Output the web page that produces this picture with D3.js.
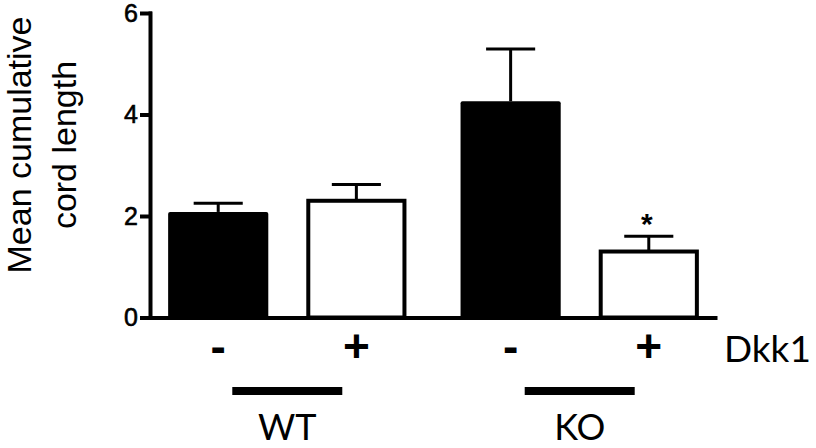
<!DOCTYPE html>
<html>
<head>
<meta charset="utf-8">
<script src="https://cdn.jsdelivr.net/npm/d3@7"></script>
<style>
  body { margin: 0; background: #fff; }
  svg { display: block; }
</style>
</head>
<body>
<svg class="chart" width="816" height="448"></svg>
<script>
const groups = ["WT", "KO"];
const treatments = ["-", "+"];
const means = [2.08, 2.30, 4.26, 1.30];
const sems = [0.17, 0.32, 1.03, 0.30];
const stars = ["", "", "", "*"];
const yTicks = [0, 2, 4, 6];
const yTitle = ["Mean cumulative", "cord length"];
const treatmentTitle = "Dkk1";

const svg = d3.select(".chart");

const x0 = 150, x1 = 717, yBase = 317.5, yTop = 13;

// group scale, then -/+ inside each group
const xGroup = d3.scaleBand()
  .domain(groups)
  .range([x0, x1])
  .paddingInner(0.185)
  .paddingOuter(0.062);

const xTreat = d3.scaleBand()
  .domain(treatments)
  .range([0, xGroup.bandwidth()])
  .paddingInner(0.275)
  .paddingOuter(0);

const y = d3.scaleLinear().domain([0, 6]).range([yBase, yTop]);

const bars = means.map((m, i) => ({
  group: groups[Math.floor(i / 2)],
  treat: treatments[i % 2],
  mean: m,
  sem: sems[i],
  star: stars[i]
}));

const bx = d => xGroup(d.group) + xTreat(d.treat);
const bw = xTreat.bandwidth();

// bars
const g = svg.append("g");
g.selectAll("rect.bar")
  .data(bars)
  .enter()
  .append("rect")
  .attr("class", "bar")
  .attr("x", d => d.treat === "-" ? bx(d) : bx(d) + 2)
  .attr("width", d => d.treat === "-" ? bw : bw - 4)
  .attr("y", d => y(d.mean))
  .attr("height", d => yBase - y(d.mean))
  .attr("rx", d => d.treat === "-" ? 2 : 0)
  .attr("fill", d => d.treat === "-" ? "#000" : "#fff")
  .attr("stroke", d => d.treat === "-" ? "none" : "#000")
  .attr("stroke-width", 4);

// error bars (upper only)
const capW = bw * 0.49;
const err = g.selectAll("g.err")
  .data(bars)
  .enter()
  .append("g")
  .attr("class", "err")
  .attr("stroke", "#000")
  .attr("stroke-width", 3);

err.append("line")
  .attr("x1", d => bx(d) + bw / 2)
  .attr("x2", d => bx(d) + bw / 2)
  .attr("y1", d => y(d.mean))
  .attr("y2", d => y(d.mean + d.sem));

err.append("line")
  .attr("x1", d => bx(d) + bw / 2 - capW / 2)
  .attr("x2", d => bx(d) + bw / 2 + capW / 2)
  .attr("y1", d => y(d.mean + d.sem))
  .attr("y2", d => y(d.mean + d.sem));

g.selectAll("text.star")
  .data(bars.filter(d => d.star))
  .enter()
  .append("text")
  .attr("class", "star")
  .attr("x", d => bx(d) + bw / 2 - 2)
  .attr("y", d => y(d.mean + d.sem) - 2)
  .attr("text-anchor", "middle")
  .attr("font-family", "Liberation Sans, Arial, sans-serif")
  .attr("font-weight", "bold")
  .attr("font-size", 30)
  .text(d => d.star);

// y axis
const yAxis = svg.append("g")
  .attr("transform", `translate(${x0},0)`)
  .call(d3.axisLeft(y).tickValues(yTicks).tickFormat(d3.format("d"))
    .tickSize(8).tickSizeOuter(0).tickPadding(4));
yAxis.selectAll("path, line").attr("stroke", "#000").attr("stroke-width", 4).attr("stroke-linecap", "square");
yAxis.selectAll("text")
  .attr("font-family", "Liberation Sans, Arial, sans-serif")
  .attr("font-size", 25)
  .attr("fill", "#000")
  .attr("stroke", "#000")
  .attr("stroke-width", 0.6);

// baseline
const xAxis = svg.append("g")
  .attr("transform", `translate(0,${yBase})`)
  .call(d3.axisBottom(xGroup).tickSize(0).tickFormat(""));
xAxis.select("path").attr("stroke", "#000").attr("stroke-width", 4);

// y title
svg.append("g")
  .selectAll("text")
  .data(yTitle)
  .enter()
  .append("text")
  .attr("transform", (d, i) => `translate(${i === 0 ? 31 : 76},145) rotate(-90)`)
  .attr("text-anchor", "middle")
  .attr("font-family", "Liberation Sans, Arial, sans-serif")
  .attr("font-size", 34)
  .attr("fill", "#000")
  .text(d => d);

// -/+ labels under each bar
svg.append("g")
  .selectAll("text")
  .data(bars)
  .enter()
  .append("text")
  .attr("x", d => bx(d) + bw / 2)
  .attr("y", 362)
  .attr("text-anchor", "middle")
  .attr("font-family", "Liberation Sans, Arial, sans-serif")
  .attr("font-weight", "bold")
  .attr("font-size", 46)
  .text(d => d.treat);

svg.append("text")
  .attr("x", 724)
  .attr("y", 362)
  .attr("font-family", "Lato, sans-serif")
  .attr("font-size", 37)
  .text(treatmentTitle);

// group underline + name
const grp = svg.append("g")
  .selectAll("g")
  .data(groups)
  .enter()
  .append("g")
  .attr("transform", d => `translate(${xGroup(d) + xGroup.bandwidth() / 2},0)`);

grp.append("line")
  .attr("x1", -55)
  .attr("x2", 55)
  .attr("y1", 391)
  .attr("y2", 391)
  .attr("stroke", "#000")
  .attr("stroke-width", 8);

grp.append("text")
  .attr("y", 440)
  .attr("text-anchor", "middle")
  .attr("font-family", "Lato, sans-serif")
  .attr("font-size", 36)
  .text(d => d);
</script>
</body>
</html>
